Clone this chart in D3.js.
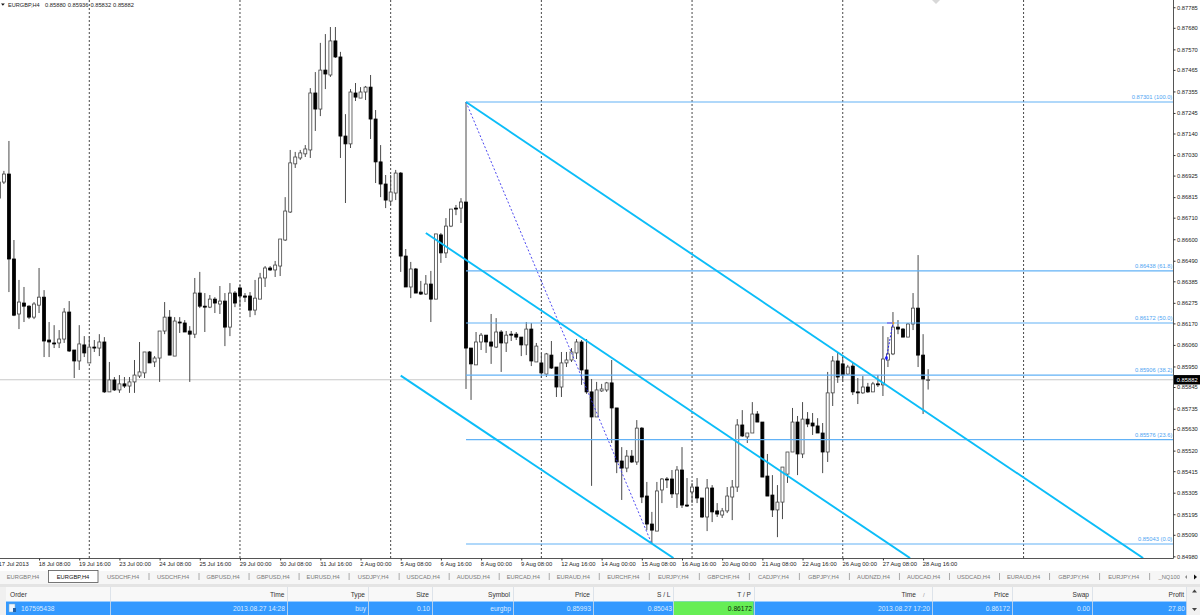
<!DOCTYPE html>
<html>
<head>
<meta charset="utf-8">
<script src="https://cdn.jsdelivr.net/npm/d3@7"></script>
<style>
html,body{margin:0;padding:0;background:#fff;overflow:hidden}
svg{display:block;font-family:"Liberation Sans",Arial,sans-serif}
</style>
</head>
<body>
<svg id="c" width="1200" height="615"></svg>
<script>
const opens=[0.86810,0.86892,0.86933,0.86499,0.86218,0.86274,0.86258,0.86202,0.86263,0.86304,0.86085,0.86070,0.86070,0.86090,0.86228,0.86034,0.85978,0.86060,0.85968,0.86049,0.86044,0.86075,0.85820,0.85881,0.85830,0.85861,0.85850,0.85871,0.85901,0.85917,0.86024,0.85973,0.85993,0.86131,0.86202,0.86003,0.86177,0.86172,0.86131,0.86115,0.86325,0.86258,0.86253,0.86294,0.86269,0.86284,0.86151,0.86325,0.86351,0.86310,0.86310,0.86238,0.86294,0.86402,0.86453,0.86443,0.86463,0.86596,0.86739,0.86985,0.87015,0.87036,0.87056,0.87347,0.87265,0.87464,0.87439,0.87613,0.87531,0.87127,0.87087,0.87347,0.87321,0.87352,0.87377,0.87214,0.86995,0.86882,0.86795,0.86836,0.86938,0.86514,0.86356,0.86448,0.86330,0.86320,0.86371,0.86294,0.86622,0.86530,0.86667,0.86759,0.86759,0.86790,0.86044,0.85958,0.86075,0.86110,0.86075,0.86049,0.86126,0.86070,0.86115,0.86115,0.86100,0.86060,0.86141,0.85973,0.85968,0.85911,0.86008,0.85947,0.85845,0.85968,0.85983,0.86019,0.86075,0.85932,0.85820,0.85692,0.85825,0.85830,0.85866,0.85738,0.85467,0.85431,0.85492,0.85462,0.85635,0.85288,0.85145,0.85109,0.85319,0.85375,0.85375,0.85299,0.85421,0.85242,0.85309,0.85334,0.85278,0.85181,0.85329,0.85212,0.85191,0.85212,0.85283,0.85334,0.85651,0.85590,0.85610,0.85707,0.85666,0.85390,0.85293,0.85217,0.85257,0.85400,0.85513,0.85666,0.85503,0.85681,0.85661,0.85646,0.85610,0.85513,0.85815,0.85978,0.85963,0.85911,0.85952,0.85820,0.85815,0.85845,0.85820,0.85861,0.85856,0.85983,0.86014,0.86151,0.86141,0.86100,0.86167,0.86248,0.86008,0.85880];
const highs=[0.86897,0.86949,0.87102,0.86596,0.86392,0.86356,0.86263,0.86279,0.86453,0.86340,0.86177,0.86161,0.86136,0.86248,0.86284,0.86034,0.86161,0.86105,0.86105,0.86085,0.86115,0.86100,0.85973,0.85896,0.85906,0.85896,0.85896,0.85983,0.86075,0.86024,0.86029,0.86003,0.86131,0.86279,0.86238,0.86202,0.86202,0.86187,0.86156,0.86402,0.86433,0.86325,0.86315,0.86304,0.86361,0.86325,0.86376,0.86335,0.86366,0.86325,0.86330,0.86392,0.86428,0.86463,0.86463,0.86489,0.86601,0.86815,0.87056,0.87046,0.87056,0.87081,0.87372,0.87454,0.87603,0.87648,0.87684,0.87684,0.87557,0.87239,0.87367,0.87398,0.87377,0.87383,0.87439,0.87260,0.87081,0.86928,0.86928,0.86954,0.86943,0.86550,0.86484,0.86453,0.86387,0.86417,0.86438,0.86627,0.86632,0.86708,0.86754,0.86775,0.86810,0.87301,0.86044,0.86126,0.86121,0.86110,0.86218,0.86197,0.86136,0.86131,0.86131,0.86126,0.86100,0.86177,0.86172,0.86070,0.86019,0.86019,0.86080,0.85947,0.86024,0.86024,0.86044,0.86090,0.86085,0.86090,0.85886,0.85871,0.85861,0.85871,0.85983,0.85738,0.85538,0.85523,0.85523,0.85676,0.85640,0.85360,0.85207,0.85360,0.85380,0.85385,0.85421,0.85441,0.85538,0.85380,0.85355,0.85380,0.85278,0.85375,0.85344,0.85252,0.85227,0.85334,0.85370,0.85681,0.85727,0.85610,0.85768,0.85722,0.85666,0.85503,0.85395,0.85344,0.85436,0.85513,0.85738,0.85697,0.85768,0.85717,0.85712,0.85686,0.85661,0.85922,0.86003,0.86019,0.86008,0.85958,0.85968,0.85891,0.85901,0.85866,0.85871,0.85906,0.86156,0.86100,0.86228,0.86187,0.86146,0.86172,0.86325,0.86519,0.86115,0.85936];
const lows=[0.86805,0.86882,0.86330,0.86207,0.86141,0.86177,0.86192,0.86192,0.86223,0.85998,0.85998,0.86044,0.86044,0.86070,0.86024,0.85891,0.85932,0.85998,0.85968,0.86024,0.86003,0.85815,0.85820,0.85825,0.85815,0.85840,0.85815,0.85815,0.85891,0.85891,0.85968,0.85947,0.85871,0.86115,0.86008,0.86003,0.86121,0.86126,0.85871,0.86095,0.86248,0.86126,0.86248,0.86223,0.86218,0.86054,0.86105,0.86253,0.86253,0.86279,0.86202,0.86212,0.86294,0.86356,0.86438,0.86407,0.86412,0.86591,0.86734,0.86964,0.87005,0.87020,0.87015,0.87153,0.87229,0.87367,0.87429,0.87526,0.87015,0.86785,0.87066,0.87306,0.87321,0.87311,0.87112,0.86887,0.86815,0.86759,0.86775,0.86800,0.86433,0.86356,0.86299,0.86325,0.86315,0.86315,0.86177,0.86294,0.86479,0.86504,0.86662,0.86723,0.86683,0.85835,0.85779,0.85958,0.86034,0.86019,0.85963,0.86044,0.85922,0.86024,0.86080,0.86085,0.86003,0.86008,0.85952,0.85973,0.85891,0.85896,0.85937,0.85794,0.85794,0.85947,0.85973,0.85988,0.85856,0.85810,0.85340,0.85692,0.85820,0.85820,0.85559,0.85405,0.85268,0.85410,0.85457,0.85447,0.85252,0.85114,0.85048,0.85109,0.85252,0.85329,0.85278,0.85227,0.85227,0.85232,0.85252,0.85252,0.85176,0.85109,0.85155,0.85181,0.85176,0.85201,0.85165,0.85309,0.85590,0.85559,0.85610,0.85666,0.85385,0.85288,0.85181,0.85078,0.85170,0.85355,0.85513,0.85395,0.85482,0.85640,0.85600,0.85610,0.85405,0.85462,0.85748,0.85866,0.85871,0.85906,0.85804,0.85758,0.85810,0.85815,0.85820,0.85845,0.85799,0.85947,0.86008,0.86115,0.86100,0.86100,0.86136,0.85947,0.85707,0.85832];
const closes=[0.86892,0.86933,0.86499,0.86212,0.86279,0.86258,0.86202,0.86269,0.86304,0.86080,0.86075,0.86065,0.86090,0.86228,0.86029,0.85978,0.86065,0.86019,0.86049,0.86044,0.86075,0.85820,0.85881,0.85830,0.85861,0.85850,0.85871,0.85906,0.85922,0.86024,0.85968,0.85993,0.86131,0.86202,0.86008,0.86182,0.86172,0.86126,0.86115,0.86325,0.86258,0.86253,0.86294,0.86274,0.86284,0.86151,0.86325,0.86274,0.86310,0.86304,0.86238,0.86299,0.86402,0.86453,0.86443,0.86468,0.86601,0.86744,0.86990,0.87020,0.87041,0.87061,0.87347,0.87265,0.87464,0.87444,0.87613,0.87531,0.87127,0.87087,0.87352,0.87326,0.87352,0.87377,0.87214,0.86995,0.86882,0.86800,0.86841,0.86938,0.86514,0.86356,0.86448,0.86325,0.86320,0.86371,0.86294,0.86627,0.86530,0.86667,0.86754,0.86754,0.86790,0.86044,0.85963,0.86075,0.86110,0.86075,0.86054,0.86126,0.86070,0.86110,0.86110,0.86100,0.86060,0.86141,0.85978,0.86054,0.85917,0.86014,0.85942,0.85845,0.85968,0.85983,0.86024,0.86075,0.85932,0.85820,0.85692,0.85830,0.85835,0.85866,0.85738,0.85462,0.85431,0.85492,0.85462,0.85635,0.85283,0.85145,0.85114,0.85314,0.85375,0.85370,0.85299,0.85421,0.85242,0.85237,0.85334,0.85278,0.85181,0.85329,0.85207,0.85196,0.85212,0.85288,0.85334,0.85651,0.85595,0.85610,0.85707,0.85666,0.85385,0.85288,0.85217,0.85257,0.85436,0.85513,0.85666,0.85503,0.85681,0.85656,0.85646,0.85610,0.85513,0.85815,0.85978,0.85896,0.85906,0.85947,0.85820,0.85815,0.85845,0.85820,0.85861,0.85856,0.85988,0.86014,0.86151,0.86141,0.86100,0.86167,0.86248,0.86008,0.85886,0.85882];

const priceTicks=[0.87785,0.87680,0.87570,0.87465,0.87355,0.87245,0.87140,0.87030,0.86925,0.86815,0.86710,0.86600,0.86490,0.86385,0.86275,0.86170,0.86060,0.85950,0.85845,0.85735,0.85630,0.85520,0.85415,0.85305,0.85195,0.85090,0.84980];
const timeLabels=["17 Jul 2013","18 Jul 08:00","19 Jul 16:00","23 Jul 00:00","24 Jul 08:00","25 Jul 16:00","29 Jul 00:00","30 Jul 08:00","31 Jul 16:00","2 Aug 00:00","5 Aug 08:00","6 Aug 16:00","8 Aug 00:00","9 Aug 08:00","12 Aug 16:00","14 Aug 00:00","15 Aug 08:00","16 Aug 16:00","20 Aug 00:00","21 Aug 08:00","22 Aug 16:00","26 Aug 00:00","27 Aug 08:00","28 Aug 16:00"];
const timeTickBars=timeLabels.map((_,i)=>i*8);
const separatorBars=[18,48,78,108,138,168,204];

const fibPrices=[0.87301,0.86438,0.86172,0.85906,0.85576,0.85043];
const fibPercents=["100.0","61.8","50.0","38.2","23.6","0.0"];
const fibStartBar=93;

const channelBars=[[93,227.8],[85,181.4],[80,134.3]];
const channelPrices=[[0.87301,0.84971],[0.86632,0.84971],[0.85903,0.84971]];
const fibTrendBars=[93,130];
const fibTrendPrices=[0.87301,0.85043];

const orderBars=[176.7,178];
const orderPrices=[0.85993,0.86172];

const headerSymbol="EURGBP,H4";
const currentPrice=0.85882;
const ohlcText=["0.85880","0.85936","0.85832","0.85882"];

const tabs=["EURGBP,H4","EURGBP,H4","USDCHF,H4","USDCHF,H4","GBPUSD,H4","GBPUSD,H4","EURUSD,H4","USDJPY,H4","USDCAD,H4","AUDUSD,H4","EURCAD,H4","EURAUD,H4","EURCHF,H4","EURJPY,H4","GBPCHF,H4","CADJPY,H4","GBPJPY,H4","AUDNZD,H4","AUDCAD,H4","USDCAD,H4","EURAUD,H4","GBPJPY,H4","EURJPY,H4","_NQ100,H4"];
const tableHeads=["Order","Time","Type","Size","Symbol","Price","S / L","T / P","Time","Price","Swap","Profit"];
const tableRow=["167595438","2013.08.27 14:28","buy","0.10","eurgbp","0.85993","0.85043","0.86172","2013.08.27 17:20","0.86172","0.00","27.80"];

const W=1173,H=558,FS=5.75;
const svg=d3.select("#c");
const x=d3.scaleLinear().domain([0,233.75]).range([-1.123,W]);
const y=d3.scaleLinear().domain([0.85043,0.87301]).range([544,102]);

svg.append("rect").attr("width",1200).attr("height",615).attr("fill","#fff");
const clip=svg.append("defs").append("clipPath").attr("id","plot");
clip.append("rect").attr("width",W).attr("height",H);
const plot=svg.append("g").attr("clip-path","url(#plot)");

// period separators
plot.selectAll("line.sep").data(separatorBars).join("line").attr("class","sep")
  .attr("x1",d=>x(d)).attr("x2",d=>x(d)).attr("y1",0).attr("y2",H)
  .attr("stroke","#333").attr("stroke-width",0.9).attr("stroke-dasharray","2,2");

// current price line
plot.append("line").attr("x1",0).attr("x2",W).attr("y1",y(currentPrice)).attr("y2",y(currentPrice))
  .attr("stroke","#c8c8c8").attr("stroke-width",1.1);

// candles
const bars=d3.range(opens.length);
plot.selectAll("line.wick").data(bars).join("line").attr("class","wick")
  .attr("x1",i=>x(i)).attr("x2",i=>x(i)).attr("y1",i=>y(highs[i])).attr("y2",i=>y(lows[i]))
  .attr("stroke","#4a4a4a").attr("stroke-width",1);
plot.selectAll("rect.body").data(bars).join("rect").attr("class","body")
  .attr("x",i=>x(i)-1.5).attr("width",3)
  .attr("y",i=>y(Math.max(opens[i],closes[i])))
  .attr("height",i=>Math.max(0.8,Math.abs(y(opens[i])-y(closes[i]))))
  .attr("fill",i=>closes[i]>opens[i]?"#fff":"#000")
  .attr("stroke",i=>closes[i]>opens[i]?"#444":"#000").attr("stroke-width",0.8);

// fibonacci levels
plot.selectAll("line.fib").data(fibPrices).join("line").attr("class","fib")
  .attr("x1",x(fibStartBar)).attr("x2",W).attr("y1",d=>y(d)).attr("y2",d=>y(d))
  .attr("stroke","#62b2f6").attr("stroke-width",1.2);
svg.selectAll("text.fib").data(fibPrices).join("text").attr("class","fib")
  .attr("x",W-0.7).attr("y",(d)=>y(d)-2.6).attr("text-anchor","end")
  .attr("font-size",FS).attr("fill","#4da3f2")
  .text((d,i)=>`${d.toFixed(5)} (${fibPercents[i]})`);

// fib trend dotted line
plot.append("line").attr("x1",x(fibTrendBars[0])).attr("x2",x(fibTrendBars[1]))
  .attr("y1",y(fibTrendPrices[0])).attr("y2",y(fibTrendPrices[1]))
  .attr("stroke","#3a36ee").attr("stroke-width",0.9).attr("stroke-dasharray","2,2");

// channel lines
plot.selectAll("line.chan").data(channelBars).join("line").attr("class","chan")
  .attr("x1",d=>x(d[0])).attr("x2",d=>x(d[1]))
  .attr("y1",(d,i)=>y(channelPrices[i][0])).attr("y2",(d,i)=>y(channelPrices[i][1]))
  .attr("stroke","#0cbdf8").attr("stroke-width",1.9);

// order markers
plot.append("line").attr("x1",x(orderBars[0])).attr("x2",x(orderBars[1]))
  .attr("y1",y(orderPrices[0])).attr("y2",y(orderPrices[1]))
  .attr("stroke","#2222ee").attr("stroke-width",1).attr("stroke-dasharray","2,1.5");
plot.append("line").attr("x1",x(orderBars[1])-6).attr("x2",x(orderBars[1]))
  .attr("y1",y(orderPrices[1])).attr("y2",y(orderPrices[1]))
  .attr("stroke","#6a62ee").attr("stroke-width",1.2);
plot.append("path").attr("d",d3.symbol(d3.symbolDiamond,9)())
  .attr("transform",`translate(${x(orderBars[0])},${y(orderPrices[0])})`).attr("fill","#1a1aff");
plot.append("circle").attr("cx",x(orderBars[1])+0.5).attr("cy",y(orderPrices[1])).attr("r",1).attr("fill","#f0a020");

// axes
const axR=d3.axisRight(y).tickValues(priceTicks).tickSize(2).tickPadding(1.5).tickFormat(d3.format(".5f"));
const gR=svg.append("g").attr("transform",`translate(${W+0.5},0)`).call(axR);
gR.select(".domain").attr("stroke","#555").attr("d",`M0,0V${H+0.5}`);
gR.selectAll(".tick line").attr("stroke","#333");
gR.selectAll("text").attr("font-size",FS).attr("fill","#222").attr("font-family","inherit");

const axB=d3.axisBottom(x).tickValues(timeTickBars).tickSize(2).tickPadding(1.8).tickFormat((d,i)=>timeLabels[i]);
const gB=svg.append("g").attr("transform",`translate(0,${H+0.5})`).call(axB);
gB.select(".domain").attr("stroke","#555").attr("d",`M0,0H${W+0.5}`);
gB.selectAll(".tick line").attr("stroke","#333");
gB.selectAll("text").attr("font-size",FS+0.1).attr("fill","#222").attr("text-anchor","start").attr("dx","-0.8").attr("font-family","inherit");

// current price tag
svg.append("rect").attr("x",W+1).attr("y",y(currentPrice)-4.7).attr("width",26).attr("height",9.4).attr("fill","#000");
svg.append("text").attr("x",W+3.8).attr("y",y(currentPrice)+2.1).attr("font-size",FS).attr("fill","#fff").text(currentPrice.toFixed(5));

// header
svg.append("path").attr("d","M1,3.5H4.8L2.9,5.8Z").attr("fill","#111");
svg.append("text").attr("x",8).attr("y",6.6).attr("font-size",5.6).attr("fill","#222")
  .text(headerSymbol);
svg.selectAll("text.ohlc").data(ohlcText).join("text").attr("class","ohlc")
  .attr("x",(d,i)=>45+i*22.7).attr("y",6.6).attr("font-size",FS).attr("fill","#222").text(d=>d);
svg.append("path").attr("d","M932,0H940L936,4Z").attr("fill","#d8d8d8");

// tab strip
svg.append("rect").attr("x",0).attr("y",571).attr("width",1200).attr("height",13).attr("fill","#f6f6f6");
svg.append("rect").attr("x",0).attr("y",584).attr("width",1200).attr("height",3).attr("fill","#e4e4e4");
const tabW=50.03;
svg.selectAll("line.tabsep").data(tabs.slice(2)).join("line").attr("class","tabsep")
  .attr("x1",(d,i)=>149+i*tabW).attr("x2",(d,i)=>149+i*tabW).attr("y1",573).attr("y2",580).attr("stroke","#aaa");
svg.append("rect").attr("x",48.5).attr("y",570.5).attr("width",49.5).attr("height",12).attr("fill","#fff").attr("stroke","#555").attr("stroke-width",0.8);
svg.selectAll("text.tab").data(tabs).join("text").attr("class","tab")
  .attr("x",(d,i)=>23+i*tabW).attr("y",578.8).attr("text-anchor","middle").attr("font-size",FS)
  .attr("fill",(d,i)=>i===1?"#111":"#7a7a7a").text(d=>d);
svg.append("rect").attr("x",1180).attr("y",571).attr("width",20).attr("height",13).attr("fill","#f6f6f6");
svg.append("path").attr("d","M1187,575V579L1185,577Z").attr("fill","#888");
svg.append("path").attr("d","M1194,574.5V579.5L1197,577Z").attr("fill","#111");

// order table
const colRight=[null,284.5,365,429,510,590,670.5,751,916,1009,1089,1184];
const rowRight=[null,285,366,430,511,591,672,752,930,1010,1090,1185];
const colSep=[110,287,368,432,513,593,673,754,932,1012,1092,1186];
svg.append("rect").attr("x",0).attr("y",587).attr("width",6).attr("height",28).attr("fill","#f0f0f0");
svg.append("rect").attr("x",6).attr("y",587).attr("width",1181).attr("height",14).attr("fill","#f8f8f8");
svg.append("rect").attr("x",6).attr("y",601.5).attr("width",1181).attr("height",13.5).attr("fill","#3399ff");
svg.append("rect").attr("x",673.5).attr("y",601.5).attr("width",80).attr("height",13.5).attr("fill","#66ee55");
svg.selectAll("line.colsep").data(colSep).join("line").attr("class","colsep")
  .attr("x1",d=>d+0.5).attr("x2",d=>d+0.5).attr("y1",587).attr("y2",615)
  .attr("stroke",d=>"#d5dde6").attr("stroke-width",0.8);
svg.selectAll("text.th").data(tableHeads).join("text").attr("class","th")
  .attr("x",(d,i)=>i===0?10:colRight[i]).attr("y",596.7).attr("text-anchor",(d,i)=>i===0?"start":"end")
  .attr("font-size",6.6).attr("fill","#333").text(d=>d);
svg.append("text").attr("x",923).attr("y",596.7).attr("font-size",6).attr("fill","#999").text("/");
svg.selectAll("text.td").data(tableRow).join("text").attr("class","td")
  .attr("x",(d,i)=>i===0?21:rowRight[i]).attr("y",610.7).attr("text-anchor",(d,i)=>i===0?"start":"end")
  .attr("font-size",6.7).attr("fill",(d,i)=>i===7?"#0a2a0a":"#dcebff").text(d=>d);
svg.append("rect").attr("x",9).attr("y",604).attr("width",6).attr("height",8).attr("fill","#eef6ff").attr("stroke","#8ab").attr("stroke-width",0.5);
svg.append("rect").attr("x",13).attr("y",608).attr("width",3).attr("height",4).attr("fill","#1f5fa8");
svg.append("rect").attr("x",1187).attr("y",587).attr("width",13).attr("height",28).attr("fill","#f2f2f2");
svg.append("path").attr("d","M1192,592.5H1197L1194.5,589.5Z").attr("fill","#444");
svg.append("path").attr("d","M1192,608H1197L1194.5,611Z").attr("fill","#444");
</script>
</body>
</html>
